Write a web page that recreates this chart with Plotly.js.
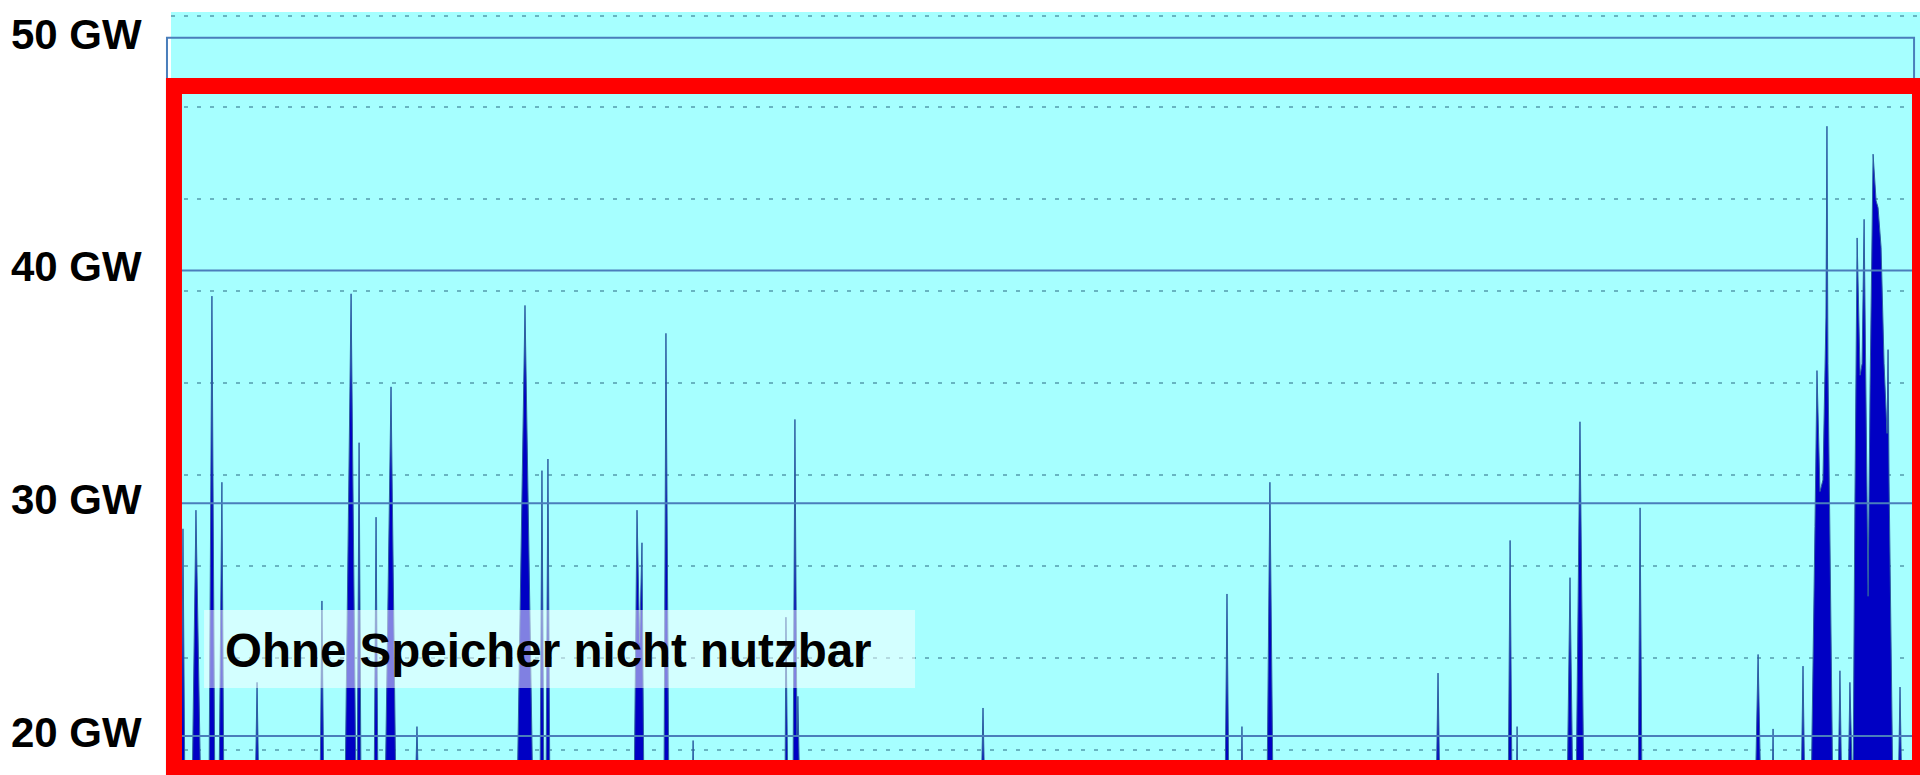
<!DOCTYPE html>
<html>
<head>
<meta charset="utf-8">
<script src="https://cdn.plot.ly/plotly-3.0.1.min.js"></script>
<style>
  html, body { margin: 0; padding: 0; background: #ffffff; }
  #chart { width: 1920px; height: 775px; }
</style>
</head>
<body>
<div id="chart"></div>
<script>
// Stunde des Jahres (x) und Leistung in GW (y)
const stunden = [0,
  50, 60, 70,
  105, 125, 150,
  190, 205, 220,
  240, 255, 265,
  421, 431, 441,
  746, 756, 766,
  871, 902, 927,
  932, 942, 952,
  1017, 1027, 1037,
  1072, 1102, 1127,
  1222, 1232, 1242,
  1733, 1773, 1813,
  1848, 1858, 1868,
  1878, 1888, 1898,
  2319, 2334, 2347, 2359, 2369,
  2469, 2479, 2494,
  2610, 2615, 2620,
  3075, 3080, 3090,
  3115, 3125, 3135, 3140, 3150,
  4057, 4067, 4077,
  5279, 5289, 5299,
  5359, 5364, 5369,
  5489, 5504, 5520,
  6336, 6346, 6356,
  6697, 6707, 6717,
  6737, 6742, 6747,
  6992, 7007, 7022,
  7037, 7057, 7077,
  7348, 7358, 7368,
  7934, 7949, 7964,
  8019, 8024, 8029,
  8164, 8174, 8184,
  8214, 8234, 8244, 8259, 8274, 8289, 8294, 8299, 8309, 8324,
  8349, 8359, 8369,
  8399, 8409, 8419,
  8424, 8434, 8445, 8460, 8470, 8480, 8490, 8500, 8510, 8525, 8540, 8550, 8565, 8580, 8595, 8600, 8605, 8615, 8625,
  8650, 8660, 8670,
  8760];

const leistungGW = [17,
  17, 28.9, 17,
  17, 29.7, 17,
  17, 38.9, 17,
  17, 30.9, 17,
  17, 22.3, 17,
  17, 25.8, 17,
  17, 39.0, 17,
  17, 32.6, 17,
  17, 29.4, 17,
  17, 35.0, 17,
  17, 20.4, 17,
  17, 38.5, 17,
  17, 31.4, 17,
  17, 31.9, 17,
  17, 29.7, 24, 28.3, 17,
  17, 37.3, 17,
  17, 19.8, 17,
  17, 25.1, 17,
  17, 33.6, 20, 21.7, 17,
  17, 21.2, 17,
  17, 26.1, 17,
  17, 20.4, 17,
  17, 30.9, 17,
  17, 22.7, 17,
  17, 28.4, 17,
  17, 20.4, 17,
  17, 26.8, 17,
  17, 33.5, 17,
  17, 29.8, 17,
  17, 23.5, 17,
  17, 20.3, 17,
  17, 23.0, 17,
  17, 29, 35.7, 30.5, 31, 38, 46.2, 36, 29, 17,
  17, 22.8, 17,
  17, 22.3, 17,
  17, 30, 41.4, 35.5, 36, 42.2, 35, 26, 35, 45.0, 43, 42.7, 41, 36, 33, 36.6, 31, 24, 17,
  17, 22.1, 17,
  17];

const tickWerte = [20, 30, 40, 50];
const tickTexte = ['20 GW', '30 GW', '40 GW', '50 GW'];
const hinweisText = 'Ohne Speicher nicht nutzbar';

const fontFam = 'Liberation Sans, Arial, Helvetica, sans-serif';
const yRange = [18.32, 51.11];

const traces = [
  {
    type: 'scatter',
    mode: 'lines',
    x: stunden,
    y: leistungGW,
    fill: 'tozeroy',
    fillcolor: '#0000c4',
    line: { color: 'rgb(45,95,160)', width: 1 },
    hoverinfo: 'skip',
    showlegend: false
  },
  {
    type: 'scatter',
    mode: 'lines',
    x: [],
    y: [],
    yaxis: 'y2',
    hoverinfo: 'skip',
    showlegend: false
  }
];

const yMax = Math.max(...tickWerte);
const shapes = [];
tickWerte.forEach(function (v) {
  if (v === yMax) {
    shapes.push({
      type: 'rect', xref: 'paper', yref: 'y',
      x0: -0.0023, x1: 0.9966, y0: 17, y1: v,
      line: { color: '#4a7ebb', width: 2 }, fillcolor: 'rgba(0,0,0,0)', layer: 'above'
    });
  } else {
    shapes.push({
      type: 'line', xref: 'paper', yref: 'y',
      x0: 0, x1: 1, y0: v, y1: v,
      line: { color: '#4a7ebb', width: 2 }, layer: 'above'
    });
  }
});
// halbtransparenter Kasten hinter dem Hinweistext
shapes.push({
  type: 'rect', xref: 'paper', yref: 'paper',
  x0: 0.0189, x1: 0.4254, y0: 0.114, y1: 0.2163,
  line: { width: 0 }, fillcolor: 'rgba(255,255,255,0.5)', layer: 'above'
});
// roter Rahmen
shapes.push({
  type: 'rect', xref: 'paper', yref: 'paper',
  x0: 0.0017, x1: 1.0, y0: 0.0092, y1: 0.903,
  line: { color: '#ff0000', width: 16 }, fillcolor: 'rgba(0,0,0,0)', layer: 'above'
});

const layout = {
  width: 1920,
  height: 775,
  margin: { l: 171, r: 0, t: 12, b: 0, pad: 0 },
  paper_bgcolor: '#ffffff',
  plot_bgcolor: '#a6ffff',
  showlegend: false,
  xaxis: {
    range: [0, 8760],
    showgrid: false, zeroline: false, showticklabels: false, showline: false, ticks: ''
  },
  yaxis: {
    range: yRange,
    tickmode: 'array',
    tickvals: tickWerte,
    ticktext: tickTexte,
    tickfont: { family: fontFam, size: 42, color: '#000000', weight: 'bold' },
    ticks: 'outside', ticklen: 20, tickcolor: 'rgba(0,0,0,0)',
    ticklabelshift: -4,
    showgrid: false, zeroline: false, showline: false
  },
  yaxis2: {
    overlaying: 'y',
    side: 'right',
    range: yRange,
    tickmode: 'linear', tick0: 19.4, dtick: 3.944,
    showticklabels: false, ticks: '',
    showgrid: true, gridcolor: 'rgba(70,140,160,0.65)', gridwidth: 2, griddash: '4px,9px',
    zeroline: false, showline: false
  },
  shapes: shapes,
  annotations: [
    {
      xref: 'paper', yref: 'paper',
      x: 0.0297, y: 0.1632, xanchor: 'left', yanchor: 'middle',
      text: hinweisText, showarrow: false,
      font: { family: fontFam, size: 47.5, color: '#000000', weight: 'bold' }
    }
  ]
};

Plotly.newPlot('chart', traces, layout, { displayModeBar: false, staticPlot: true });
</script>
</body>
</html>
